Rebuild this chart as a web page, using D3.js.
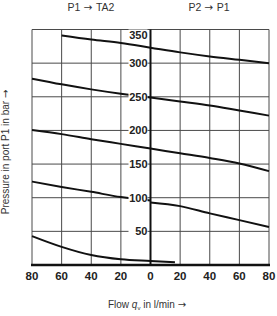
<!DOCTYPE html>
<html>
<head>
<meta charset="utf-8">
<script src="https://cdnjs.cloudflare.com/ajax/libs/d3/7.8.5/d3.min.js"></script>
<style>
  body { margin: 0; background: #fff; }
  svg { display: block; }
</style>
</head>
<body>
<svg id="chart" width="277" height="316"></svg>
<script>
'use strict';

/* Data */
let xTicks = [-80, -60, -40, -20, 0, 20, 40, 60, 80];
let yTicks = [50, 100, 150, 200, 250, 300, 350];

// each curve: flow (negative = P1 -> TA2 side) and pressure in bar
let curveTopFlow = [-60, -40, -20, 0, 20, 40, 60, 80];
let curveTopP = [341, 335, 330, 323, 316, 310, 305, 300];
let curve250LFlow = [-80, -60, -40, -20, 0];
let curve250LP = [277, 268.5, 261, 254.5, 249];
let curve250RFlow = [0, 20, 40, 60, 80];
let curve250RP = [249, 243, 237, 229.5, 222];
let curve200Flow = [-80, -60, -40, -20, 0, 20, 40, 60, 80];
let curve200P = [200.5, 194.5, 187, 180, 173, 166, 159, 151, 139.5];
let curve100LFlow = [-80, -60, -40, -20, 0];
let curve100LP = [124, 116, 108.7, 101, 96];
let curve100RFlow = [0, 20, 40, 60, 80];
let curve100RP = [93, 87.5, 76.7, 66.7, 56.4];
let curveLowFlow = [-80, -60, -40, -20, 0, 16.5];
let curveLowP = [43, 27, 14.8, 8.4, 5.9, 4];

let curves = [
    [curveTopFlow, curveTopP],
    [curve250LFlow, curve250LP],
    [curve250RFlow, curve250RP],
    [curve200Flow, curve200P],
    [curve100LFlow, curve100LP],
    [curve100RFlow, curve100RP],
    [curveLowFlow, curveLowP]
];

var svg = d3.select("#chart"),
    x = d3.scaleLinear().domain([-80, 80]).range([32, 269]),
    y = d3.scaleLinear().domain([0, 350]).range([265, 29.5]),
    font = "'Liberation Sans', Arial, sans-serif",
    arrowFont = "'DejaVu Sans', sans-serif";

/* Grid */
svg.append("g")
    .selectAll("line")
    .data(xTicks.filter(d => d !== 0))
    .enter().append("line")
    .attr("x1", d => x(d)).attr("x2", d => x(d))
    .attr("y1", y(350)).attr("y2", y(0))
    .attr("stroke", "#4a4a4a").attr("stroke-width", 1);

svg.append("g")
    .selectAll("line")
    .data(yTicks)
    .enter().append("line")
    .attr("x1", x(-80)).attr("x2", x(80))
    .attr("y1", d => y(d)).attr("y2", d => y(d))
    .attr("stroke", "#4a4a4a").attr("stroke-width", 1);

/* Curves */
var line = d3.line()
    .x(d => x(d[0]))
    .y(d => y(d[1]))
    .curve(d3.curveMonotoneX);

svg.append("g")
    .selectAll("path")
    .data(curves.map(c => c[0].map((f, i) => [f, c[1][i]])))
    .enter().append("path")
    .attr("d", line)
    .attr("fill", "none")
    .attr("stroke", "#111")
    .attr("stroke-width", 2);

/* Axes lines */
svg.append("line")
    .attr("x1", x(0)).attr("x2", x(0))
    .attr("y1", y(350)).attr("y2", y(0))
    .attr("stroke", "#111").attr("stroke-width", 2);
svg.append("line")
    .attr("x1", x(-80) - 1).attr("x2", x(80) + 1)
    .attr("y1", y(0)).attr("y2", y(0))
    .attr("stroke", "#111").attr("stroke-width", 2.5);

/* Y tick labels on the centre line (top one kept inside the frame) */
var labelY = d => Math.max(y(d), y(350) + 5);
var yl = svg.append("g").selectAll("g")
    .data(yTicks)
    .enter().append("g");
yl.append("rect")
    .attr("x", x(0) - 22).attr("width", 19)
    .attr("y", d => labelY(d) - 5).attr("height", 10)
    .attr("fill", "#fff");
yl.append("text")
    .attr("x", x(0) - 3)
    .attr("y", d => labelY(d) + 4)
    .attr("text-anchor", "end")
    .attr("font-family", font)
    .attr("font-weight", "bold")
    .attr("font-size", 11)
    .attr("fill", "#222")
    .text(d => d);

/* X tick labels */
svg.append("g").selectAll("text")
    .data(xTicks)
    .enter().append("text")
    .attr("x", d => x(d))
    .attr("y", 279.5)
    .attr("text-anchor", "middle")
    .attr("font-family", font)
    .attr("font-weight", "bold")
    .attr("font-size", 11.5)
    .attr("fill", "#222")
    .text(d => Math.abs(d));

/* Titles */
function arrowTitle(sel, before, after) {
    sel.append("tspan").text(before);
    sel.append("tspan").attr("font-family", arrowFont).text(" \u2192 ");
    sel.append("tspan").text(after);
}
arrowTitle(svg.append("text")
    .attr("x", 91).attr("y", 10.5)
    .attr("text-anchor", "middle")
    .attr("font-family", font).attr("font-size", 10.5)
    .attr("fill", "#333"), "P1", "TA2");
arrowTitle(svg.append("text")
    .attr("x", 209).attr("y", 10.5)
    .attr("text-anchor", "middle")
    .attr("font-family", font).attr("font-size", 10.5)
    .attr("fill", "#333"), "P2", "P1");

var xt = svg.append("text")
    .attr("x", 147).attr("y", 308)
    .attr("text-anchor", "middle")
    .attr("font-family", font).attr("font-size", 10)
    .attr("fill", "#333");
xt.append("tspan").text("Flow ");
xt.append("tspan").attr("font-style", "italic").text("q");
xt.append("tspan").attr("font-size", 6).attr("dy", 2).text("v");
xt.append("tspan").attr("dy", -2).text(" in l/min ");
xt.append("tspan").attr("font-family", arrowFont).text("\u2192");

var yt = svg.append("text")
    .attr("transform", "translate(8.5,152) rotate(-90)")
    .attr("text-anchor", "middle")
    .attr("font-family", font).attr("font-size", 10)
    .attr("fill", "#333");
yt.append("tspan").text("Pressure in port P1 in bar ");
yt.append("tspan").attr("font-family", arrowFont).text("\u2192");
</script>
</body>
</html>
